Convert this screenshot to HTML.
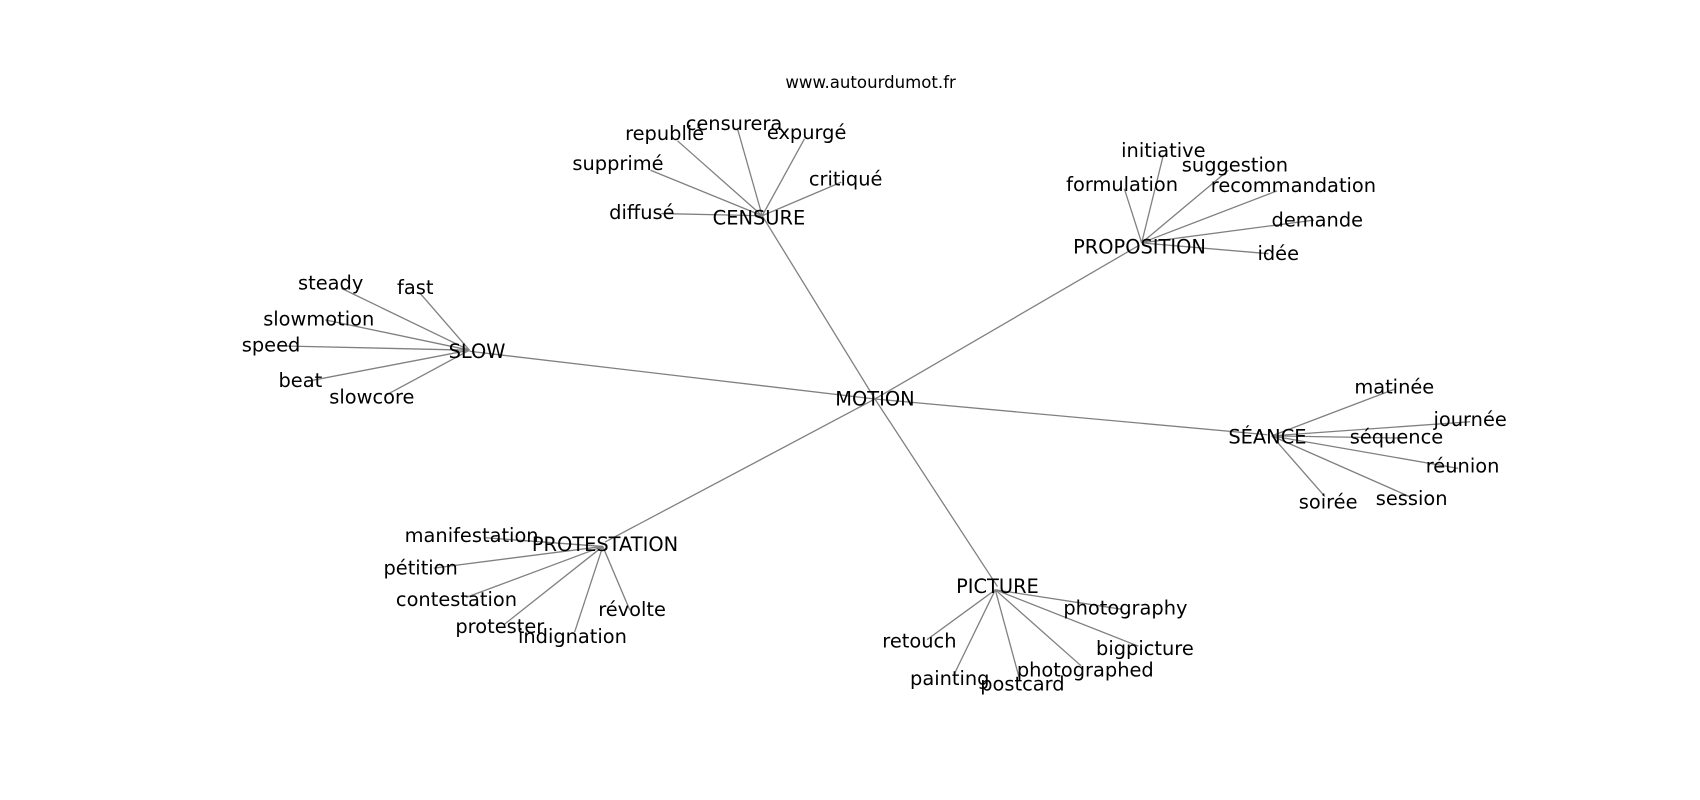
<!DOCTYPE html>
<html><head><meta charset="utf-8"><style>
html,body{margin:0;padding:0;background:#fff;width:1700px;height:800px;overflow:hidden}
svg text{font-family:"DejaVu Sans","Liberation Sans",sans-serif;fill:#000}
</style></head><body>
<svg width="1700" height="800" viewBox="0 0 1700 800" xmlns="http://www.w3.org/2000/svg">
<g transform="scale(1.0842)">
<g stroke="#808080" stroke-width="1.2" fill="none">
<line x1="807" y1="368" x2="703" y2="199"/>
<line x1="807" y1="368" x2="1051" y2="226"/>
<line x1="807" y1="368" x2="433" y2="324"/>
<line x1="807" y1="368" x2="1169" y2="401"/>
<line x1="807" y1="368" x2="558" y2="500"/>
<line x1="807" y1="368" x2="920" y2="541"/>
<line x1="703" y1="199" x2="625" y2="130"/>
<line x1="703" y1="199" x2="680" y2="118"/>
<line x1="703" y1="199" x2="742" y2="128"/>
<line x1="703" y1="199" x2="776" y2="168"/>
<line x1="703" y1="199" x2="600" y2="157"/>
<line x1="703" y1="199" x2="610" y2="197"/>
<line x1="1053" y1="224" x2="1073" y2="143"/>
<line x1="1053" y1="224" x2="1133" y2="157"/>
<line x1="1053" y1="224" x2="1037" y2="174"/>
<line x1="1053" y1="224" x2="1178" y2="176"/>
<line x1="1053" y1="224" x2="1212" y2="203"/>
<line x1="1053" y1="224" x2="1170" y2="234"/>
<line x1="433" y1="323" x2="315" y2="266"/>
<line x1="433" y1="323" x2="387" y2="270"/>
<line x1="433" y1="323" x2="300" y2="295"/>
<line x1="433" y1="323" x2="257" y2="319"/>
<line x1="433" y1="323" x2="287" y2="351"/>
<line x1="433" y1="323" x2="355" y2="365"/>
<line x1="1173" y1="402" x2="1286" y2="359"/>
<line x1="1173" y1="402" x2="1356" y2="389"/>
<line x1="1173" y1="402" x2="1292" y2="404"/>
<line x1="1173" y1="402" x2="1345" y2="432"/>
<line x1="1173" y1="402" x2="1300" y2="458"/>
<line x1="1173" y1="402" x2="1222" y2="458"/>
<line x1="556" y1="504" x2="448" y2="496"/>
<line x1="556" y1="504" x2="400" y2="524"/>
<line x1="556" y1="504" x2="430" y2="551"/>
<line x1="556" y1="504" x2="465" y2="576"/>
<line x1="556" y1="504" x2="530" y2="583"/>
<line x1="556" y1="504" x2="581" y2="563"/>
<line x1="918" y1="544" x2="1035" y2="562"/>
<line x1="918" y1="544" x2="1050" y2="596"/>
<line x1="918" y1="544" x2="997" y2="614"/>
<line x1="918" y1="544" x2="940" y2="625"/>
<line x1="918" y1="544" x2="880" y2="622"/>
<line x1="918" y1="544" x2="855" y2="590"/>
</g>
<g font-size="17.9" text-anchor="middle" dominant-baseline="central">
<text x="803" y="76" font-size="15.3">www.autourdumot.fr</text>
<text x="807" y="368">MOTION</text>
<text x="700" y="201">CENSURE</text>
<text x="613" y="123">republié</text>
<text x="677" y="114">censurera</text>
<text x="744" y="122">expurgé</text>
<text x="780" y="165">critiqué</text>
<text x="570" y="151">supprimé</text>
<text x="592" y="196">diffusé</text>
<text x="1051" y="228">PROPOSITION</text>
<text x="1073" y="139">initiative</text>
<text x="1139" y="152">suggestion</text>
<text x="1035" y="170">formulation</text>
<text x="1193" y="171">recommandation</text>
<text x="1215" y="203">demande</text>
<text x="1179" y="234">idée</text>
<text x="440" y="324">SLOW</text>
<text x="305" y="261">steady</text>
<text x="383" y="265">fast</text>
<text x="294" y="294">slowmotion</text>
<text x="250" y="318">speed</text>
<text x="277" y="351">beat</text>
<text x="343" y="366">slowcore</text>
<text x="1169" y="403">SÉANCE</text>
<text x="1286" y="357">matinée</text>
<text x="1356" y="387">journée</text>
<text x="1288" y="403">séquence</text>
<text x="1349" y="430">réunion</text>
<text x="1302" y="460">session</text>
<text x="1225" y="463">soirée</text>
<text x="558" y="502">PROTESTATION</text>
<text x="435" y="494">manifestation</text>
<text x="388" y="524">pétition</text>
<text x="421" y="553">contestation</text>
<text x="461" y="578">protester</text>
<text x="528" y="587">indignation</text>
<text x="583" y="562">révolte</text>
<text x="920" y="541">PICTURE</text>
<text x="1038" y="561">photography</text>
<text x="1056" y="598">bigpicture</text>
<text x="1001" y="618">photographed</text>
<text x="943" y="631">postcard</text>
<text x="876" y="626">painting</text>
<text x="848" y="591">retouch</text>
</g>
</g>
</svg>
</body></html>
